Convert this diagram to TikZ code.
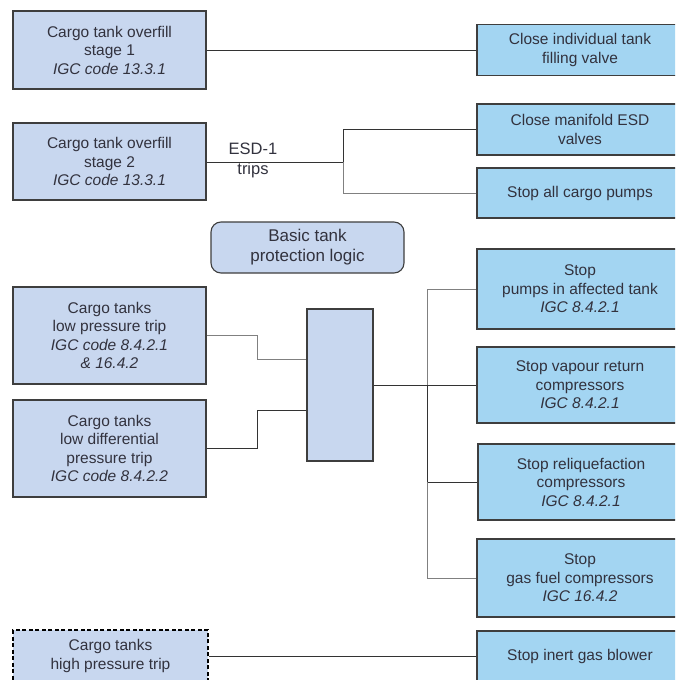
\documentclass[tikz,border=0pt]{standalone}
\usepackage{fontspec}
\setmainfont{Liberation Sans}
\usepackage{tikz}
\usetikzlibrary{calc}
\definecolor{causefill}{RGB}{200,215,239}
\definecolor{actfill}{RGB}{163,213,242}
\definecolor{txt}{RGB}{50,50,62}
\definecolor{edge}{RGB}{62,62,62}
\tikzset{
  box/.style={draw=edge,line width=1.1pt,inner sep=0pt,align=center,text=txt,
    font=\fontsize{15.5}{18.5}\selectfont},
  cause/.style={box,fill=causefill,minimum width=193pt},
  act/.style={box,fill=actfill,minimum width=206pt},
  dark/.style={draw=black!80,line width=1pt},
  light/.style={draw=black!50,line width=1pt}
}
\begin{document}
\begin{tikzpicture}[x=1pt,y=-1pt]
  \useasboundingbox (0,0) rectangle (675,680);
  \clip (0,0) rectangle (675,680);

  \node[cause,minimum height=78pt] (ovf1) at (109.5,50) {Cargo tank overfill\\stage 1\\\textit{IGC code 13.3.1}};
  \node[cause,minimum height=77pt] (ovf2) at (109.5,161.5) {Cargo tank overfill\\stage 2\\\textit{IGC code 13.3.1}};
  \node[cause,minimum height=97pt] (lowp) at (109.5,335.5) {Cargo tanks\\low pressure trip\\\textit{IGC code 8.4.2.1}\\\textit{\& 16.4.2}};
  \node[cause,minimum height=97pt] (lowdp) at (109.5,448.5) {Cargo tanks\\low differential\\pressure trip\\\textit{IGC code 8.4.2.2}};
  \node[cause,minimum width=195pt,minimum height=52pt,draw=black,line width=1.7pt,dash pattern=on 4pt off 2.5pt] (highp) at (110.5,656) {Cargo tanks\\high pressure trip};

  \node[box,fill=causefill,minimum width=193pt,minimum height=51pt,rounded corners=10pt,
    font=\fontsize{17}{20}\selectfont] (logic) at (307.5,247.5) {Basic tank\\protection logic};
  \node[box,fill=causefill,minimum width=66pt,minimum height=152pt] (mid) at (340,385) {};

  \node[act,minimum height=51pt] (fillv) at (580,50) {Close individual tank\\filling valve};
  \node[act,minimum height=51pt] (esdv) at (580,129.5) {Close manifold ESD\\valves};
  \node[act,minimum height=50pt] (allp) at (580,193) {Stop all cargo pumps};
  \node[act,minimum height=80pt] (tankp) at (580,289) {Stop\\pumps in affected tank\\\textit{IGC 8.4.2.1}};
  \node[act,minimum height=76pt] (vapc) at (580,385) {Stop vapour return\\compressors\\\textit{IGC 8.4.2.1}};
  \node[act,minimum height=76pt] (relc) at (581,482) {Stop reliquefaction\\compressors\\\textit{IGC 8.4.2.1}};
  \node[act,minimum height=78pt] (fuelc) at (580,578) {Stop\\gas fuel compressors\\\textit{IGC 16.4.2}};
  \node[act,minimum height=50pt] (inert) at (580,656) {Stop inert gas blower};

  \node[text=txt,align=center,inner sep=0pt,font=\fontsize{16.5}{20}\selectfont] (esd) at (253,160.5) {ESD-1\\trips};

  \coordinate (esdj) at (343,162);
  \coordinate (j1) at (257,359);
  \coordinate (j2) at (257,410);
  \coordinate (fan) at (427,385);

  \draw[dark] (ovf1.east) -- (fillv.west);
  \draw[dark] (ovf2.east |- esdj) -- (esdj) |- (esdv.west);
  \draw[light] (esdj) |- (allp.west);
  \draw[light] (lowp.east) -- (lowp.east -| j1) -- (j1) -- (j1 -| mid.west);
  \draw[dark] (lowdp.east) -- (lowdp.east -| j2) -- (j2) -- (j2 -| mid.west);
  \draw[dark] (mid.east) -- (vapc.west);
  \draw[light] (fan) |- (tankp.west);
  \draw[dark] (fan) |- (relc.west);
  \draw[light] (fan |- relc.west) |- (fuelc.west);
  \draw[dark] (highp.east) -- (inert.west);
\end{tikzpicture}
\end{document}
